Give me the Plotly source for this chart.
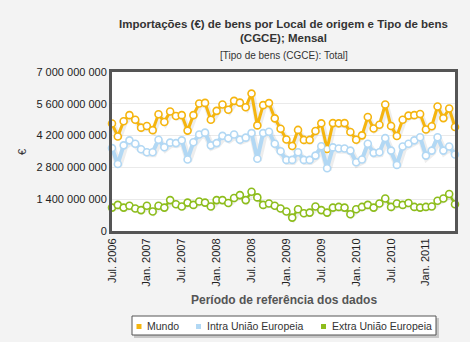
import plotly.graph_objects as go

# ---------------- data ----------------
months = [f"{m}-{y}" for y in range(2006, 2012) for m in range(1, 13)][6:66]
tick_labels = ["Jul. 2006", "Jan. 2007", "Jul. 2007", "Jan. 2008", "Jul. 2008",
               "Jan. 2009", "Jul. 2009", "Jan. 2010", "Jul. 2010", "Jan. 2011"]
y_ticks = [0, 1.4e9, 2.8e9, 4.2e9, 5.6e9, 7.0e9]
y_tick_labels = ["0", "1 400 000 000", "2 800 000 000", "4 200 000 000",
                 "5 600 000 000", "7 000 000 000"]

mundo = [4.73, 4.16, 4.83, 5.10, 4.90, 4.55, 4.62, 4.44, 5.14, 4.80,
         5.26, 5.06, 5.10, 4.42, 5.10, 5.61, 5.64, 4.90, 5.29, 5.57,
         5.34, 5.73, 5.65, 5.45, 6.05, 4.65, 5.54, 5.63, 4.96, 4.50,
         4.03, 3.74, 4.45, 4.01, 4.01, 4.40, 4.74, 3.61, 4.75, 4.74,
         4.75, 4.36, 4.02, 4.21, 5.02, 4.51, 4.68, 5.57, 4.62, 4.18,
         4.90, 5.08, 5.10, 5.15, 4.47, 4.61, 5.48, 4.97, 5.39, 4.58]
intra = [3.65, 2.95, 3.77, 3.99, 3.84, 3.60, 3.47, 3.47, 4.02, 3.69,
         3.89, 3.87, 3.99, 3.15, 3.91, 4.25, 4.33, 3.77, 3.87, 4.19,
         4.08, 4.25, 4.02, 4.11, 4.31, 3.18, 4.31, 4.37, 3.84, 3.51,
         3.13, 3.13, 3.47, 3.13, 3.13, 3.32, 3.73, 2.76, 3.68, 3.63,
         3.63, 3.54, 3.03, 3.15, 3.84, 3.44, 3.47, 4.09, 3.54, 2.91,
         3.72, 3.84, 3.99, 4.13, 3.32, 3.54, 4.13, 3.54, 3.72, 3.37]
extra = [1.03, 1.15, 1.03, 1.11, 0.99, 0.92, 1.11, 0.86, 1.11, 1.03,
         1.36, 1.18, 1.08, 1.25, 1.15, 1.30, 1.25, 1.08, 1.36, 1.36,
         1.23, 1.45, 1.58, 1.36, 1.73, 1.48, 1.15, 1.21, 1.11, 0.99,
         0.86, 0.59, 0.96, 0.78, 0.81, 1.08, 0.92, 0.81, 1.03, 1.06,
         1.03, 0.74, 0.96, 1.06, 1.15, 1.03, 1.21, 1.43, 1.06, 1.21,
         1.15, 1.23, 1.06, 1.03, 1.06, 1.08, 1.33, 1.43, 1.63, 1.18]
series_names = ["Mundo", "Intra União Europeia", "Extra União Europeia"]

# ---------------- styling ----------------
W, H = 470, 342
L, R, T, B = 112, 15, 72, 111
PW, PH = W - L - R, H - T - B
colors = ["#F5B50F", "#B2D8F4", "#8DBD1C"]
widths = [3, 4, 2.5]
FONT = "Liberation Sans, Arial, sans-serif"

def px(x):
    return (x - L) / PW

def py(y):
    return (H - B - y) / PH

n = len(months)
xs = list(range(n))
fig = go.Figure()

# soft shadows under lines
dx = 1.0 * (n - 1) / PW
dy = 1.6 * 7.0e9 / PH
for vals, w in zip([mundo, intra, extra], widths):
    fig.add_trace(go.Scatter(
        x=[x + dx for x in xs], y=[v * 1e9 - dy for v in vals], mode="lines",
        line=dict(color="rgba(0,0,0,0.07)", width=w + 3),
        hoverinfo="skip", showlegend=False, cliponaxis=False))

for name, vals, c, w in zip(series_names, [mundo, intra, extra], colors, widths):
    fig.add_trace(go.Scatter(
        x=xs, y=[v * 1e9 for v in vals], mode="lines+markers", name=name,
        line=dict(color=c, width=w),
        marker=dict(symbol="circle", size=7, color="white",
                    line=dict(color=c, width=1.6)),
        showlegend=False, cliponaxis=False))

fig.update_layout(
    width=W, height=H,
    margin=dict(l=L, r=R, t=T, b=B, pad=0),
    paper_bgcolor="#F3F3F3", plot_bgcolor="white",
    font=dict(family=FONT, size=11, color="#333333"),
    showlegend=False,
)
fig.update_xaxes(
    range=[0, n - 1], tickmode="array", tickvals=xs[::6], ticktext=tick_labels,
    tickangle=-90, showgrid=False, zeroline=False, showline=True, mirror=True,
    linecolor="#555555", linewidth=3, ticks="", tickfont=dict(size=11, color="#222222"),
)
fig.update_yaxes(
    range=[0, 7.0e9], tickmode="array", tickvals=y_ticks, ticktext=y_tick_labels,
    showgrid=True, gridcolor="#EAEAEA", gridwidth=1, zeroline=False,
    showline=True, mirror=True, linecolor="#555555", linewidth=3, ticks="",
    tickfont=dict(size=11, color="#222222"),
)

ann = []
ann.append(dict(text="<b>Importações (€) de bens por Local de origem e Tipo de bens</b>",
                x=0.5, y=py(24), font=dict(size=11.5, color="#333333")))
ann.append(dict(text="<b>(CGCE); Mensal</b>", x=0.5, y=py(38),
                font=dict(size=11.5, color="#333333")))
ann.append(dict(text="[Tipo de bens (CGCE): Total]", x=0.5, y=py(55),
                font=dict(size=10, color="#333333")))
ann.append(dict(text="<b>Período de referência dos dados</b>", x=0.5, y=py(300),
                font=dict(size=12, color="#555555")))
ann.append(dict(text="€", x=px(22), y=py(152), textangle=-90,
                font=dict(size=11, color="#333333")))

# custom legend
shapes = []
shapes.append(dict(type="rect", xref="paper", yref="paper",
                   x0=px(134), x1=px(439), y0=py(318), y1=py(338),
                   fillcolor="rgba(0,0,0,0.18)", line=dict(width=0), layer="below"))
shapes.append(dict(type="rect", xref="paper", yref="paper",
                   x0=px(132), x1=px(436), y0=py(316), y1=py(335),
                   fillcolor="white", line=dict(color="#555555", width=1), layer="below"))
leg_sq = [139, 198.5, 323.5]
leg_tx = [145, 205, 330]
for name, c, sx, tx in zip(series_names, colors, leg_sq, leg_tx):
    shapes.append(dict(type="rect", xref="paper", yref="paper",
                       x0=px(sx - 2.5), x1=px(sx + 2.5), y0=py(324), y1=py(329),
                       fillcolor=c, line=dict(width=0), layer="above"))
    ann.append(dict(text=name, x=px(tx), y=py(326), xanchor="left",
                    font=dict(size=10.5, color="#333333")))

for a in ann:
    a.setdefault("xanchor", "center")
    a.update(xref="paper", yref="paper", yanchor="middle", showarrow=False)
fig.update_layout(annotations=ann, shapes=shapes)

fig.write_html("out.html")
